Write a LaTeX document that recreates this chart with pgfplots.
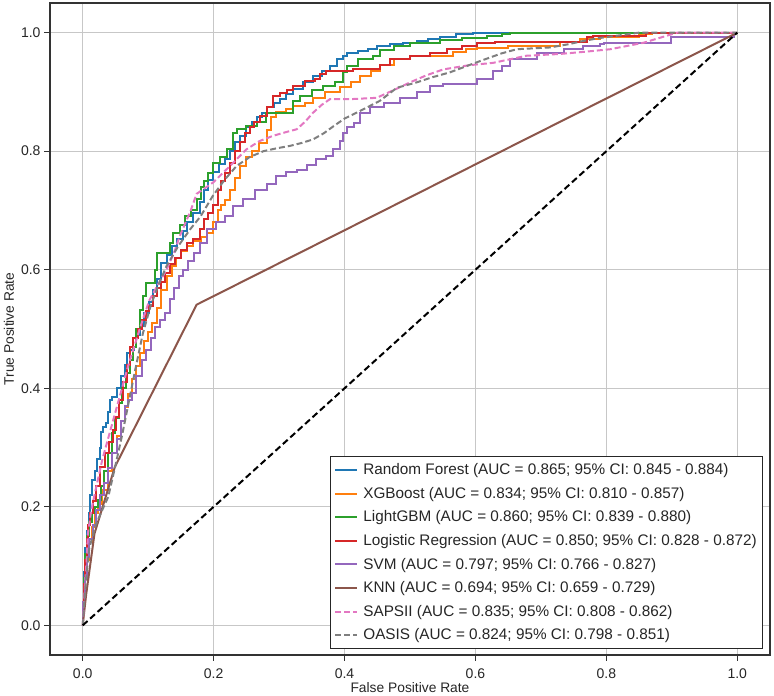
\documentclass[border=0pt]{standalone}
\usepackage{fontspec}
\setmainfont{Liberation Sans}
\usepackage{pgfplots}
\pgfplotsset{compat=1.18}
\definecolor{cRF}{HTML}{1F77B4}
\definecolor{cXGB}{HTML}{FF7F0E}
\definecolor{cLGB}{HTML}{2CA02C}
\definecolor{cLR}{HTML}{D62728}
\definecolor{cSVM}{HTML}{9467BD}
\definecolor{cKNN}{HTML}{8C564B}
\definecolor{cSAP}{HTML}{E377C2}
\definecolor{cOAS}{HTML}{7F7F7F}
\definecolor{txt}{HTML}{262626}
\begin{document}
\begin{tikzpicture}
\begin{axis}[
  scale only axis, width=720pt, height=652pt,
  xmin=-0.05, xmax=1.05, ymin=-0.05, ymax=1.05,
  xtick={0,0.2,0.4,0.6,0.8,1.0}, ytick={0,0.2,0.4,0.6,0.8,1.0},
  /pgf/number format/.cd, fixed, fixed zerofill, precision=1, assume math mode=true, /pgfplots/.cd,
  tick pos=left, tick align=outside, major tick length=6pt,
  tick style={black!80, line width=0.9pt},
  tick label style={font=\fontsize{14}{16}\selectfont, text=txt},
  xticklabel style={yshift=-4pt},
  axis line style={black!80, line width=1.2pt},
  grid=major, grid style={black!22, line width=0.9pt},
  xlabel={False Positive Rate}, ylabel={True Positive Rate},
  label style={font=\fontsize{13.8}{16}\selectfont, text=txt},
  xlabel style={at={(axis description cs:0.5,-0.0506)}, anchor=center},
  ylabel style={at={(axis description cs:-0.0569,0.5)}, anchor=center},
  every axis plot/.append style={line width=2pt},
  legend cell align=left,
  legend image code/.code={\draw[#1] (0pt,0pt) -- (22pt,0pt);},
  legend style={at={(rel axis cs:0.990,0.0092)}, anchor=south east,
    draw=black!85, line width=1.2pt, sharp corners,
    font=\fontsize{15.3}{18}\selectfont, text=txt,
    inner xsep=3.5pt, inner ysep=5pt, row sep=7pt,
    /tikz/every odd column/.append style={column sep=3pt}},
]
\addplot[cRF, const plot mark right] coordinates {
(0,0)(0.002,0.04)(0.004,0.09)(0.007,0.13)(0.009,0.16)(0.011,0.19)(0.014,0.22)(0.018,0.245)(0.022,0.26)(0.026,0.28)(0.028,0.30)(0.031,0.327)(0.036,0.335)(0.039,0.341)(0.042,0.36)(0.045,0.38)(0.052,0.385)(0.058,0.40)(0.064,0.42)(0.068,0.44)(0.072,0.46)(0.078,0.465)(0.082,0.47)(0.088,0.49)(0.094,0.505)(0.102,0.527)(0.108,0.545)(0.114,0.565)(0.120,0.585)(0.128,0.611)(0.136,0.625)(0.144,0.64)(0.153,0.651)(0.160,0.665)(0.168,0.68)(0.179,0.696)(0.186,0.715)(0.192,0.735)(0.199,0.752)(0.208,0.765)(0.217,0.778)(0.225,0.786)(0.232,0.80)(0.241,0.815)(0.25,0.826)(0.258,0.84)(0.266,0.85)(0.274,0.858)(0.281,0.865)(0.292,0.875)(0.302,0.882)(0.311,0.888)(0.322,0.897)(0.336,0.905)(0.352,0.916)(0.365,0.926)(0.378,0.935)(0.388,0.944)(0.398,0.955)(0.403,0.961)(0.42,0.965)(0.436,0.969)(0.449,0.972)(0.47,0.977)(0.49,0.98)(0.51,0.983)(0.528,0.986)(0.546,0.989)(0.57,0.993)(0.596,0.998)(0.648,1.0)(1,1)};
\addlegendentry{Random Forest (AUC = 0.865; 95\% CI: 0.845 - 0.884)}
\addplot[cXGB, const plot mark right] coordinates {
(0,0)(0.003,0.04)(0.006,0.08)(0.01,0.11)(0.014,0.14)(0.018,0.166)(0.024,0.19)(0.03,0.205)(0.038,0.228)(0.045,0.26)(0.052,0.29)(0.058,0.32)(0.064,0.345)(0.069,0.369)(0.075,0.39)(0.081,0.415)(0.087,0.437)(0.094,0.46)(0.1,0.48)(0.106,0.495)(0.113,0.51)(0.12,0.535)(0.128,0.565)(0.136,0.59)(0.143,0.606)(0.15,0.62)(0.16,0.632)(0.169,0.64)(0.18,0.648)(0.19,0.655)(0.199,0.662)(0.206,0.68)(0.212,0.70)(0.218,0.71)(0.225,0.718)(0.232,0.735)(0.24,0.755)(0.25,0.775)(0.258,0.79)(0.27,0.80)(0.281,0.814)(0.288,0.835)(0.296,0.858)(0.31,0.866)(0.322,0.871)(0.34,0.877)(0.352,0.882)(0.37,0.89)(0.393,0.899)(0.41,0.908)(0.424,0.916)(0.44,0.927)(0.454,0.935)(0.475,0.945)(0.50,0.955)(0.566,0.961)(0.585,0.967)(0.602,0.972)(0.65,0.974)(0.729,0.977)(0.76,0.985)(0.79,0.99)(0.85,0.993)(0.87,0.998)(0.88,1.0)(1,1)};
\addlegendentry{XGBoost (AUC = 0.834; 95\% CI: 0.810 - 0.857)}
\addplot[cLGB, const plot mark right] coordinates {
(0,0)(0.002,0.04)(0.004,0.08)(0.007,0.12)(0.010,0.15)(0.014,0.175)(0.018,0.19)(0.024,0.20)(0.0285,0.211)(0.033,0.235)(0.038,0.26)(0.044,0.29)(0.049,0.324)(0.055,0.35)(0.060,0.375)(0.066,0.40)(0.072,0.425)(0.077,0.448)(0.082,0.47)(0.087,0.50)(0.092,0.532)(0.097,0.555)(0.102,0.578)(0.110,0.578)(0.113,0.60)(0.118,0.628)(0.133,0.628)(0.138,0.645)(0.148,0.662)(0.156,0.675)(0.165,0.69)(0.174,0.70)(0.180,0.72)(0.186,0.74)(0.192,0.75)(0.199,0.764)(0.21,0.78)(0.22,0.79)(0.23,0.803)(0.235,0.831)(0.25,0.838)(0.266,0.842)(0.28,0.85)(0.296,0.865)(0.322,0.865)(0.332,0.885)(0.35,0.893)(0.367,0.904)(0.385,0.91)(0.398,0.916)(0.403,0.933)(0.42,0.943)(0.443,0.955)(0.454,0.961)(0.475,0.97)(0.50,0.977)(0.546,0.983)(0.58,0.987)(0.617,0.991)(0.64,0.995)(0.653,0.998)(0.66,1.0)(1,1)};
\addlegendentry{LightGBM (AUC = 0.860; 95\% CI: 0.839 - 0.880)}
\addplot[cLR, const plot mark right] coordinates {
(0,0)(0.002,0.03)(0.004,0.07)(0.006,0.11)(0.008,0.145)(0.011,0.17)(0.015,0.19)(0.02,0.21)(0.026,0.235)(0.034,0.268)(0.04,0.29)(0.046,0.31)(0.051,0.33)(0.055,0.352)(0.062,0.38)(0.068,0.41)(0.072,0.44)(0.077,0.47)(0.084,0.485)(0.09,0.50)(0.096,0.515)(0.102,0.53)(0.107,0.538)(0.114,0.555)(0.12,0.57)(0.126,0.58)(0.133,0.595)(0.141,0.61)(0.15,0.62)(0.159,0.634)(0.168,0.645)(0.179,0.651)(0.186,0.668)(0.192,0.685)(0.199,0.696)(0.206,0.71)(0.212,0.735)(0.218,0.75)(0.225,0.764)(0.232,0.78)(0.24,0.80)(0.248,0.815)(0.255,0.831)(0.262,0.84)(0.271,0.85)(0.281,0.859)(0.29,0.875)(0.301,0.893)(0.312,0.898)(0.322,0.904)(0.34,0.91)(0.355,0.918)(0.362,0.921)(0.372,0.93)(0.413,0.935)(0.454,0.938)(0.47,0.945)(0.50,0.955)(0.53,0.96)(0.556,0.966)(0.58,0.972)(0.602,0.977)(0.63,0.982)(0.653,0.985)(0.77,0.985)(0.78,0.993)(0.86,0.995)(0.88,1.0)(1,1)};
\addlegendentry{Logistic Regression (AUC = 0.850; 95\% CI: 0.828 - 0.872)}
\addplot[cSVM, const plot mark right] coordinates {
(0,0)(0.003,0.04)(0.006,0.08)(0.01,0.115)(0.015,0.145)(0.02,0.17)(0.026,0.195)(0.032,0.22)(0.038,0.24)(0.045,0.265)(0.052,0.29)(0.058,0.315)(0.064,0.345)(0.069,0.37)(0.075,0.38)(0.082,0.392)(0.09,0.42)(0.097,0.448)(0.104,0.465)(0.111,0.485)(0.118,0.504)(0.125,0.515)(0.133,0.527)(0.14,0.55)(0.147,0.57)(0.153,0.589)(0.161,0.60)(0.17,0.615)(0.179,0.628)(0.19,0.645)(0.204,0.668)(0.217,0.68)(0.23,0.69)(0.245,0.707)(0.263,0.72)(0.281,0.735)(0.296,0.745)(0.311,0.758)(0.327,0.765)(0.342,0.769)(0.357,0.777)(0.372,0.786)(0.383,0.792)(0.393,0.803)(0.398,0.817)(0.403,0.831)(0.414,0.84)(0.424,0.848)(0.439,0.865)(0.46,0.875)(0.485,0.882)(0.51,0.89)(0.53,0.90)(0.551,0.91)(0.602,0.913)(0.627,0.921)(0.64,0.935)(0.653,0.944)(0.694,0.955)(0.735,0.966)(0.765,0.972)(0.79,0.977)(0.796,0.98)(0.898,0.983)(0.908,0.993)(0.995,0.993)(1,1)};
\addlegendentry{SVM (AUC = 0.797; 95\% CI: 0.766 - 0.827)}
\addplot[cKNN] coordinates {
(0,0)(0.005,0.05)(0.018,0.155)(0.049,0.267)(0.174,0.541)(1,1)};
\addlegendentry{KNN (AUC = 0.694; 95\% CI: 0.659 - 0.729)}
\addplot[cSAP, dash pattern=on 6pt off 3pt] coordinates {
(0,0)(0.003,0.06)(0.006,0.11)(0.008,0.155)(0.013,0.194)(0.02,0.23)(0.03,0.28)(0.04,0.32)(0.05,0.36)(0.06,0.40)(0.07,0.44)(0.08,0.475)(0.09,0.51)(0.102,0.549)(0.115,0.575)(0.128,0.60)(0.14,0.63)(0.148,0.656)(0.165,0.70)(0.174,0.728)(0.199,0.747)(0.225,0.775)(0.25,0.803)(0.27,0.817)(0.291,0.826)(0.31,0.832)(0.327,0.837)(0.34,0.85)(0.352,0.865)(0.365,0.878)(0.378,0.888)(0.413,0.888)(0.449,0.89)(0.475,0.903)(0.50,0.916)(0.525,0.928)(0.551,0.938)(0.59,0.945)(0.627,0.949)(0.678,0.961)(0.729,0.964)(0.77,0.968)(0.806,0.972)(0.857,0.983)(0.908,1.0)(1,1)};
\addlegendentry{SAPSII (AUC = 0.835; 95\% CI: 0.808 - 0.862)}
\addplot[cOAS, dash pattern=on 6pt off 3pt] coordinates {
(0,0)(0.003,0.05)(0.006,0.09)(0.01,0.13)(0.02,0.17)(0.03,0.195)(0.039,0.217)(0.05,0.27)(0.06,0.32)(0.07,0.375)(0.08,0.43)(0.092,0.493)(0.104,0.54)(0.116,0.575)(0.128,0.606)(0.146,0.64)(0.164,0.668)(0.18,0.69)(0.199,0.725)(0.217,0.752)(0.235,0.775)(0.255,0.79)(0.276,0.80)(0.297,0.805)(0.317,0.809)(0.335,0.814)(0.352,0.82)(0.368,0.83)(0.383,0.842)(0.40,0.855)(0.424,0.868)(0.454,0.885)(0.48,0.907)(0.51,0.916)(0.535,0.925)(0.561,0.933)(0.59,0.945)(0.612,0.954)(0.64,0.965)(0.663,0.972)(0.714,0.975)(0.74,0.98)(0.765,0.986)(0.79,0.991)(0.831,0.997)(0.85,1.0)(1,1)};
\addlegendentry{OASIS (AUC = 0.824; 95\% CI: 0.798 - 0.851)}
\addplot[black, dash pattern=on 6.5pt off 3.5pt, forget plot] coordinates {(0,0)(1,1)};
\end{axis}
\pgfresetboundingbox
\path[use as bounding box] (-50pt,-41pt) rectangle (724pt,655pt);
\end{tikzpicture}
\end{document}
